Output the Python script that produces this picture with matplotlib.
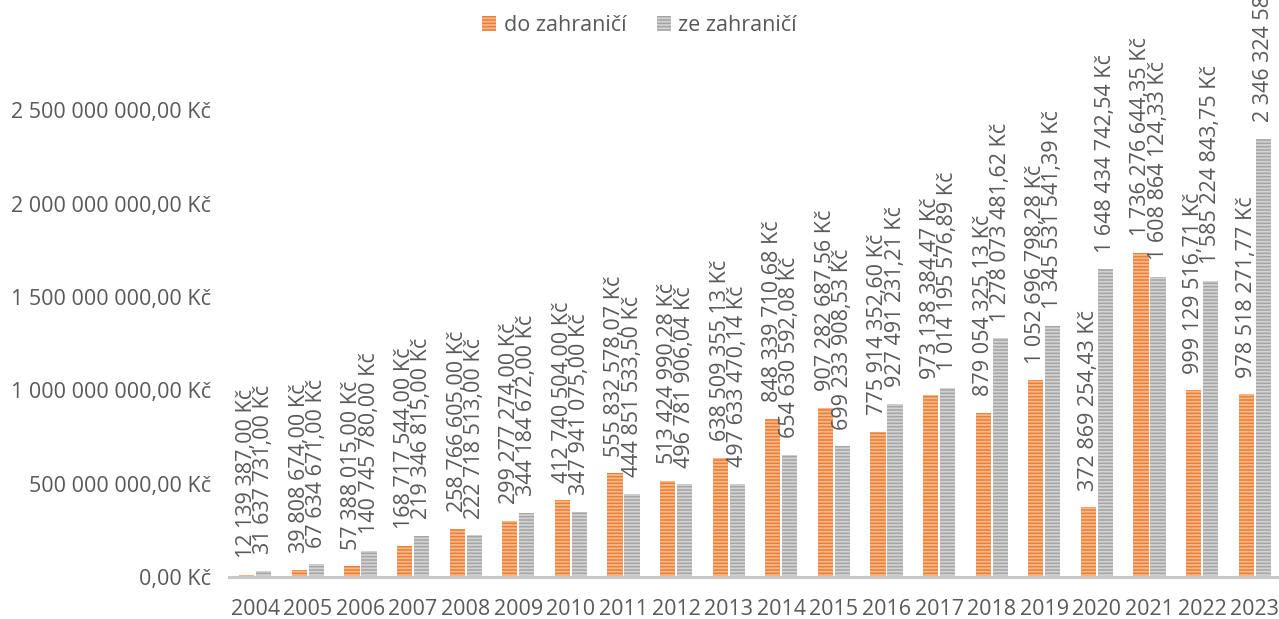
import numpy as np
import matplotlib.pyplot as plt
from matplotlib.patches import Patch

years = ['2004', '2005', '2006', '2007', '2008', '2009', '2010', '2011', '2012', '2013',
         '2014', '2015', '2016', '2017', '2018', '2019', '2020', '2021', '2022', '2023']

# do zahraničí
do_zahranici = [12139387.00, 39808674.00, 57388015.00, 168717544.00, 258766605.00,
                299277274.00, 412740504.00, 555832578.07, 513424990.28, 638509355.13,
                848339710.68, 907282687.56, 775914352.60, 973138384.47, 879054325.13,
                1052696798.28, 372869254.43, 1736276644.35, 999129516.71, 978518271.77]

# ze zahraničí (poslední popisek je v originále oříznutý)
ze_zahranici = [31637731.00, 67634671.00, 140745780.00, 219346815.00, 222718513.00,
                344184672.00, 347941075.00, 444851533.50, 496781906.04, 497633470.14,
                654630592.08, 699233908.53, 927491231.21, 1014195576.89, 1278073481.62,
                1345531541.39, 1648434742.54, 1608864124.33, 1585224843.75, 2346324580.00]

series_names = ['do zahraničí', 'ze zahraničí']
y_ticks = [0, 500000000, 1000000000, 1500000000, 2000000000, 2500000000]


def kc(v):
    s = f"{v:,.2f}".replace(",", " ").replace(".", ",")
    return s + " Kč"


plt.rcParams['font.family'] = ['Open Sans', 'DejaVu Sans']
plt.rcParams['hatch.linewidth'] = 1.3
text_color = '#595959'
fs = 15.5

fig = plt.figure(figsize=(12.79, 6.19), dpi=100)
ax = fig.add_axes([229 / 1279, 42 / 619, 1052 / 1279, 560 / 619])

x = np.arange(len(years))
w = 0.29
off = 0.162

b1 = ax.bar(x - off, do_zahranici, w, color='#ED7D31', edgecolor='#F6B98E',
            linewidth=0, hatch='-----', label=series_names[0])
b2 = ax.bar(x + off, ze_zahranici, w, color='#A5A5A5', edgecolor='#D2D2D2',
            linewidth=0, hatch='-----', label=series_names[1])

for bars, vals in [(b1, do_zahranici), (b2, ze_zahranici)]:
    for rect, v in zip(bars, vals):
        ax.annotate(kc(v), (rect.get_x() + rect.get_width() / 2, v),
                    xytext=(0, 12), textcoords='offset points',
                    rotation=90, ha='center', va='bottom',
                    fontsize=fs, color=text_color, annotation_clip=False)

ax.set_xlim(-0.5, len(years) - 0.5)
ax.set_ylim(0, 3000000000)
ax.set_yticks(y_ticks)
ax.set_yticklabels([kc(t) for t in y_ticks])
ax.set_xticks(x)
ax.set_xticklabels(years)
ax.tick_params(axis='both', length=0, labelsize=fs, colors=text_color)
ax.tick_params(axis='y', pad=13)
ax.tick_params(axis='x', pad=16)

for s in ['top', 'right', 'left']:
    ax.spines[s].set_visible(False)
ax.spines['bottom'].set_color('#C8C8C8')
ax.spines['bottom'].set_linewidth(2.2)

handles = [Patch(facecolor='#ED7D31', edgecolor='#F6B98E', linewidth=0, hatch='-----'),
           Patch(facecolor='#A5A5A5', edgecolor='#D2D2D2', linewidth=0, hatch='-----')]
fig.legend(handles, series_names, loc='upper center', bbox_to_anchor=(0.5, 0.993),
           ncol=2, frameon=False, fontsize=fs, labelcolor=text_color,
           handlelength=0.65, handleheight=0.65, handletextpad=0.35,
           columnspacing=1.4, borderaxespad=0.1)

fig.savefig('out.png', dpi=100)
